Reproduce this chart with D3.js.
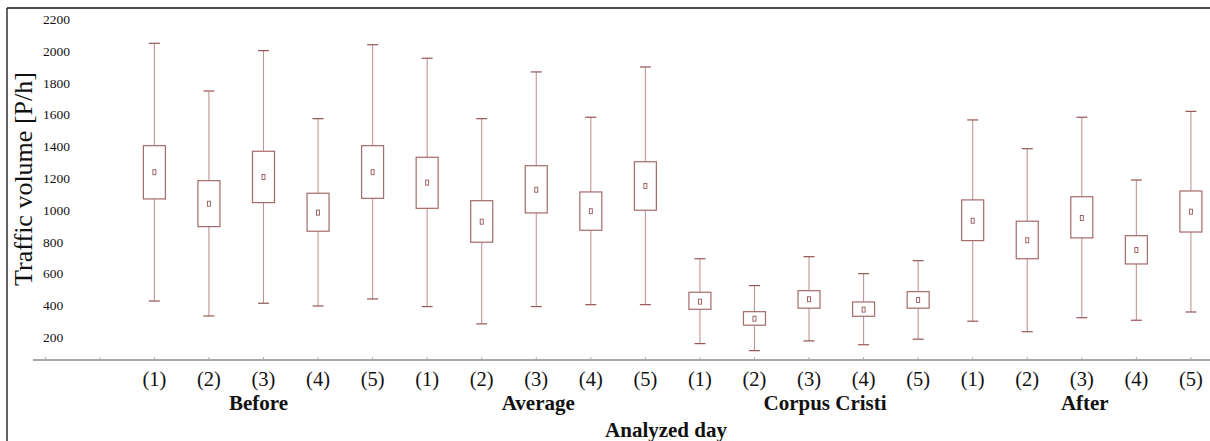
<!DOCTYPE html>
<html><head><meta charset="utf-8">
<script src="https://cdn.jsdelivr.net/npm/d3@7"></script>
<style>body{margin:0;background:#fff}svg{display:block}</style>
</head><body>
<svg id="c" width="1210" height="441"></svg>
<script>
const groups = ["Before","Average","Corpus Cristi","After"];
const days = ["(1)","(2)","(3)","(4)","(5)"];
const yTicks = [200,400,600,800,1000,1200,1400,1600,1800,2000,2200];
// per box, order: Before(1..5), Average(1..5), Corpus Cristi(1..5), After(1..5)
const whiskerHigh = [2049,1749,2003,1575,2040, 1955,1575,1869,1584,1900, 694,525,707,600,682, 1567,1386,1584,1189,1621];
const boxHigh     = [1405,1185,1370,1106,1405, 1332,1059,1279,1114,1304, 483,361,493,422,487, 1064,930,1084,839,1120];
const meanVal     = [1238,1040,1208,984,1238, 1173,927,1128,993,1152, 424,317,439,374,435, 933,810,950,749,990];
const boxLow      = [1070,896,1047,867,1074, 1011,798,982,873,999, 376,276,383,332,383, 808,694,825,661,862];
const whiskerLow  = [428,334,414,397,441, 393,284,393,405,405, 160,116,177,153,188, 301,235,323,307,359];

const svg = d3.select("#c");
const serif = "'Liberation Serif','Times New Roman',serif";

const data = [];
groups.forEach((g,gi)=>days.forEach((d,di)=>{
  const i = gi*5+di;
  data.push({g, d, k: i+2, hi: whiskerHigh[i], q3: boxHigh[i], m: meanVal[i], q1: boxLow[i], lo: whiskerLow[i]});
}));

const x = d3.scaleLinear().domain([-0.225, 21.35]).range([33, 1210]);
const y = d3.scaleLinear().domain([57, 2200]).range([360, 19.3]);

// frame
svg.append("line").attr("x1",7).attr("x2",1210).attr("y1",8).attr("y2",8).attr("stroke","#111").attr("stroke-width",1.3);
svg.append("line").attr("x1",7).attr("x2",7).attr("y1",8).attr("y2",441).attr("stroke","#111").attr("stroke-width",1.3);

// y tick labels
svg.append("g").selectAll("text").data(yTicks).join("text")
  .attr("x",43).attr("y",d=>y(d)).attr("dy","0.35em")
  .attr("font-family",serif).attr("font-size",13.5).attr("fill","#111")
  .text(d=>d);

// x axis
const ax = svg.append("g").attr("transform","translate(0,360)");
ax.append("line").attr("x1",33).attr("x2",1210).attr("stroke","#8a8a8a").attr("stroke-width",1.4);
ax.selectAll("line.t").data(d3.range(0,22)).join("line").attr("class","t")
  .attr("x1",d=>x(d)).attr("x2",d=>x(d)).attr("y1",-3).attr("y2",0).attr("stroke","#aaa");

svg.append("g").selectAll("text").data(data).join("text")
  .attr("x",d=>x(d.k)).attr("y",385.5).attr("text-anchor","middle")
  .attr("font-family",serif).attr("font-size",20.5).attr("fill","#111").text(d=>d.d);

const gOff = [-5, 2, 16, 3];
svg.append("g").selectAll("text").data(groups).join("text")
  .attr("x",(d,i)=>x(i*5+4)+gOff[i]).attr("y",410).attr("text-anchor","middle")
  .attr("font-family",serif).attr("font-weight","bold").attr("font-size",21).attr("fill","#111").text(d=>d);

svg.append("text").attr("x",666).attr("y",437).attr("text-anchor","middle")
  .attr("font-family",serif).attr("font-weight","bold").attr("font-size",21).attr("fill","#111").text("Analyzed day");

svg.append("text").attr("transform","translate(32,179) rotate(-90)").attr("text-anchor","middle")
  .attr("font-family",serif).attr("font-size",26).attr("fill","#111").text("Traffic volume [P/h]");

// boxes
const bw = 22, cw = 11;
const bx = svg.append("g").selectAll("g").data(data).join("g");
bx.append("line").attr("x1",d=>x(d.k)).attr("x2",d=>x(d.k)).attr("y1",d=>y(d.hi)).attr("y2",d=>y(d.q3)).attr("stroke","#c09595").attr("stroke-width",1.1);
bx.append("line").attr("x1",d=>x(d.k)).attr("x2",d=>x(d.k)).attr("y1",d=>y(d.q1)).attr("y2",d=>y(d.lo)).attr("stroke","#c09595").attr("stroke-width",1.1);
bx.append("line").attr("x1",d=>x(d.k)-cw/2).attr("x2",d=>x(d.k)+cw/2).attr("y1",d=>y(d.hi)).attr("y2",d=>y(d.hi)).attr("stroke","#955555").attr("stroke-width",1.2);
bx.append("line").attr("x1",d=>x(d.k)-cw/2).attr("x2",d=>x(d.k)+cw/2).attr("y1",d=>y(d.lo)).attr("y2",d=>y(d.lo)).attr("stroke","#955555").attr("stroke-width",1.2);
bx.append("rect").attr("x",d=>x(d.k)-bw/2).attr("width",bw).attr("y",d=>y(d.q3)).attr("height",d=>y(d.q1)-y(d.q3))
  .attr("fill","#fff").attr("stroke","#a56a6a").attr("stroke-width",1.2);
bx.append("rect").attr("x",d=>x(d.k)-1.5).attr("width",3).attr("y",d=>y(d.m)-2.5).attr("height",5)
  .attr("fill","none").attr("stroke","#955555").attr("stroke-width",0.9);
</script>
</body></html>
